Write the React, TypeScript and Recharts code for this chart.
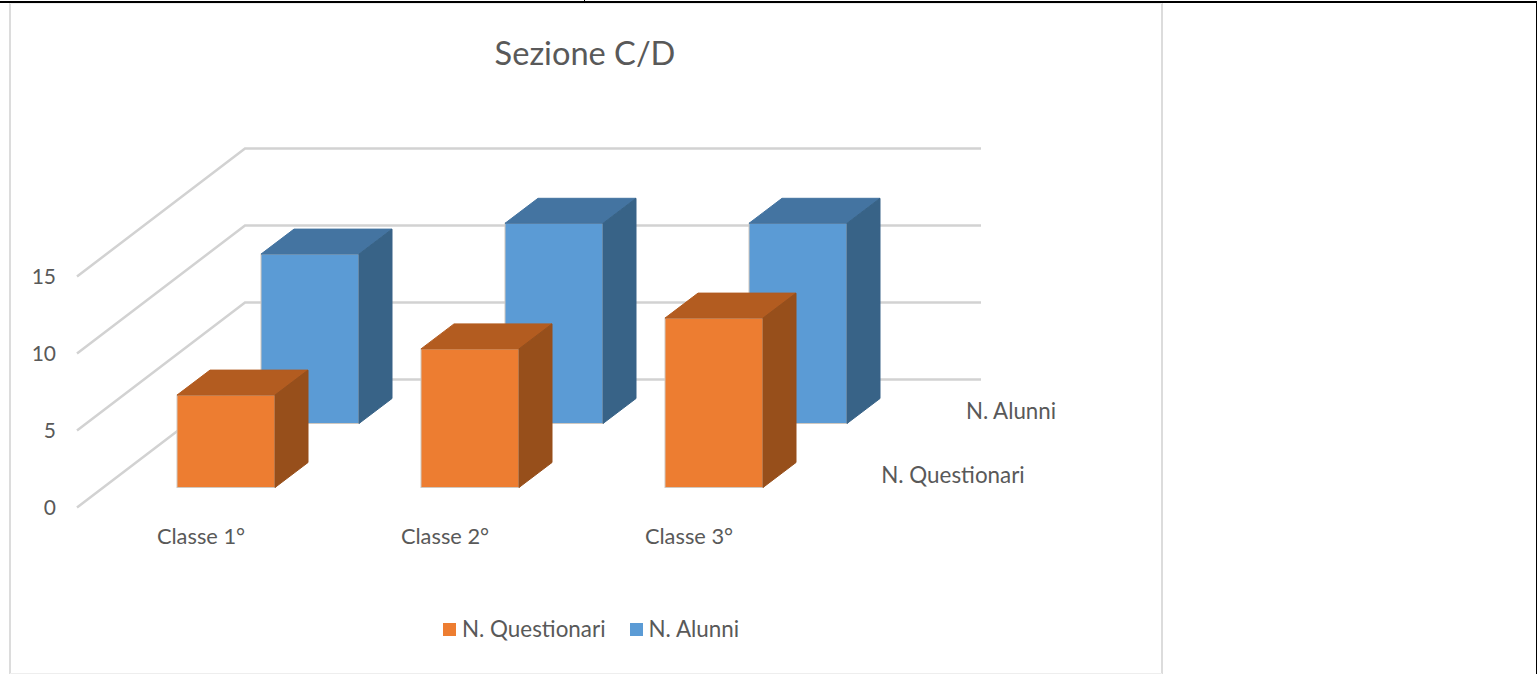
import React from 'react';
import { ComposedChart, Bar, XAxis, YAxis, CartesianGrid, Legend } from 'recharts';

const categories = ['Classe 1°', 'Classe 2°', 'Classe 3°'];
const questionari = [6, 9, 11];
const alunni = [11, 13, 13];
const yTicks = [0, 5, 10, 15];

const chartData = categories.map((name, i) => ({ name, questionari: questionari[i], alunni: alunni[i] }));

const FONT = 'Lato, sans-serif';
const TEXT = '#595959';
const GRID = '#d2d2d2';

// fake 3D: depth of one box and how far the back wall sits
const DEPTH_X = 33;
const DEPTH_Y = 25;
const WALL_X = 168;
const WALL_Y = 128;

function makeBox(shiftX: number, shiftY: number, topFill: string, sideFill: string) {
  return function Box(props: any) {
    const { x, y, width, height, fill } = props;
    const l = x + shiftX;
    const r = l + width;
    const t = y + shiftY;
    const b = t + height;
    return (
      <g>
        <rect x={l} y={t} width={width} height={height} fill={fill} stroke="#cfc8c0" strokeWidth={1} />
        <polygon points={`${l},${t} ${l + DEPTH_X},${t - DEPTH_Y} ${r + DEPTH_X},${t - DEPTH_Y} ${r},${t}`} fill={topFill} stroke={topFill} strokeWidth={1} />
        <polygon points={`${r},${t} ${r + DEPTH_X},${t - DEPTH_Y} ${r + DEPTH_X},${b - DEPTH_Y} ${r},${b}`} fill={sideFill} stroke={sideFill} strokeWidth={1} />
      </g>
    );
  };
}

const OrangeBox = makeBox(0, -20, '#b35c20', '#974f1b');
const BlueBox = makeBox(84, -84, '#4474a1', '#386387');

// each horizontal grid line runs along the side wall, then across the back wall
function WallLine(props: any) {
  const { x1, y1 } = props;
  const startX = x1 - 27;
  const backX = startX + WALL_X;
  const backY = y1 - WALL_Y;
  return <polyline points={`${startX},${y1} ${backX},${backY} 981,${backY}`} fill="none" stroke={GRID} strokeWidth={2.5} />;
}

function LegendRow(props: any) {
  const items = [...(props.payload || [])].reverse();
  return (
    <div style={{ display: 'flex', fontFamily: FONT, fontSize: 22.4, color: TEXT, lineHeight: '26px' }}>
      {items.map((it: any) => (
        <div key={it.value} style={{ display: 'flex', alignItems: 'center', marginRight: 24 }}>
          <span style={{ width: 13, height: 13, background: it.color, marginRight: 6 }} />
          {it.value}
        </div>
      ))}
    </div>
  );
}

const rule = (left: number, top: number, width: number, height: number, background: string) => (
  <div style={{ position: 'absolute', left, top, width, height, background }} />
);

export default function App() {
  return (
    <div style={{ position: 'absolute', left: 0, top: 0, width: 1537, height: 674, background: '#fff', overflow: 'hidden' }}>
      {rule(9, 3, 2, 671, '#dcdcdc')}
      {rule(1161, 3, 2, 671, '#dcdcdc')}
      {rule(10, 3, 1152, 1, '#eeeeee')}
      {rule(10, 673, 1152, 1, '#eeeeee')}
      {rule(0, 1, 1537, 2, '#000')}
      {rule(584, 0, 1, 2, '#000')}
      {rule(1536, 1, 1, 673, '#000')}
      <div style={{ position: 'absolute', left: 0, top: 0 }}>
        <ComposedChart
          width={1537}
          height={674}
          data={chartData}
          barSize={98}
          barGap={-98}
          margin={{ top: 276.5, right: 701, bottom: 107.5, left: 0 }}
        >
          <CartesianGrid horizontal={WallLine} vertical={false} />
          <XAxis
            dataKey="name"
            axisLine={false}
            tickLine={false}
            interval={0}
            height={59}
            tickMargin={15}
            tick={{ dx: -25, fill: TEXT, fontFamily: FONT, fontSize: 21.8 }}
          />
          <YAxis
            width={104}
            domain={[0, 15]}
            ticks={yTicks}
            axisLine={false}
            tickLine={false}
            tickMargin={42}
            tick={{ fill: TEXT, fontFamily: FONT, fontSize: 21 }}
          />
          <Legend
            verticalAlign="middle"
            content={LegendRow}
            wrapperStyle={{ top: 616, left: 443, width: 400 }}
          />
          <Bar dataKey="alunni" name="N. Alunni" fill="#5b9bd5" shape={BlueBox} isAnimationActive={false} />
          <Bar dataKey="questionari" name="N. Questionari" fill="#ed7d31" shape={OrangeBox} isAnimationActive={false} />
          <text x={585} y={65} textAnchor="middle" fill={TEXT} fontFamily={FONT} fontSize={32.6}>Sezione C/D</text>
          <text x={1011} y={419} textAnchor="middle" fill={TEXT} fontFamily={FONT} fontSize={22.3}>N. Alunni</text>
          <text x={953} y={483} textAnchor="middle" fill={TEXT} fontFamily={FONT} fontSize={22.4}>N. Questionari</text>
        </ComposedChart>
      </div>
    </div>
  );
}
